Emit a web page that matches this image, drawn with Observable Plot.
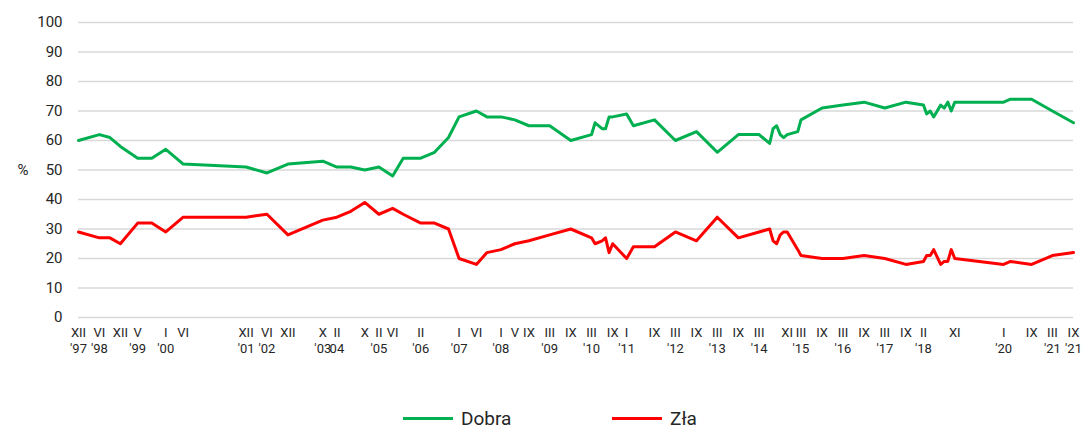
<!DOCTYPE html>
<html><head><meta charset="utf-8">
<script src="https://cdn.jsdelivr.net/npm/d3@7"></script>
<script src="https://cdn.jsdelivr.net/npm/@observablehq/plot@0.6"></script>
<style>
body{margin:0;background:#fff;font-family:Roboto,sans-serif;}
#legend{position:relative;width:1083px;height:34px;}
.item{position:absolute;top:0;height:34px;display:flex;align-items:center;font-size:19px;color:#262626}
.sw{width:50px;height:3px;margin-right:8px}
</style></head><body>
<div id="chart"></div>
<div id="legend"></div>
<script>
// survey dates (year-month)
const dates = ["1997-12","1998-06","1998-09","1998-12","1999-05","1999-09","2000-01","2000-06","2001-12","2002-06","2002-12","2003-10","2004-02","2004-06","2004-10","2005-02","2005-06","2005-09","2006-02","2006-06","2006-10","2007-01","2007-06","2007-09","2008-01","2008-05","2008-09","2009-03","2009-09","2010-03","2010-04","2010-06","2010-07","2010-08","2010-09","2011-01","2011-03","2011-09","2012-03","2012-09","2013-03","2013-09","2014-03","2014-06","2014-07","2014-08","2014-09","2014-10","2014-11","2015-02","2015-03","2015-09","2016-03","2016-09","2017-03","2017-09","2018-02","2018-03","2018-04","2018-05","2018-07","2018-08","2018-09","2018-10","2018-11","2020-01","2020-03","2020-09","2021-03","2021-09"];
// "Dobra" (%)
const dobra = [60,62,61,58,54,54,57,52,51,49,52,53,51,51,50,51,48,54,54,56,61,68,70,68,68,67,65,65,60,62,66,64,64,68,68,69,65,67,60,63,56,62,62,59,64,65,62,61,62,63,67,71,72,73,71,73,72,69,70,68,72,71,73,70,73,73,74,74,70,66];
// "Zła" (%)
const zla = [29,27,27,25,32,32,29,34,34,35,28,33,34,36,39,35,37,35,32,32,30,20,18,22,23,25,26,28,30,27,25,26,27,22,25,20,24,24,29,26,34,27,29,30,26,25,28,29,29,23,21,20,20,21,20,18,19,21,21,23,18,19,19,23,20,18,19,18,21,22];

// x-axis tick labels
const tickDates = ["1997-12","1998-06","1998-12","1999-05","2000-01","2000-06","2001-12","2002-06","2002-12","2003-10","2004-02","2004-10","2005-02","2005-06","2006-02","2007-01","2007-06","2008-01","2008-05","2008-09","2009-03","2009-09","2010-03","2010-09","2011-01","2011-09","2012-03","2012-09","2013-03","2013-09","2014-03","2014-11","2015-03","2015-09","2016-03","2016-09","2017-03","2017-09","2018-02","2018-11","2020-01","2020-09","2021-03","2021-09"];
const tickMonths = ["XII","VI","XII","V","I","VI","XII","VI","XII","X","II","X","II","VI","II","I","VI","I","V","IX","III","IX","III","IX","I","IX","III","IX","III","IX","III","XI","III","IX","III","IX","III","IX","II","XI","I","IX","III","IX"];
const tickYears = ["'97","'98","","'99","'00","","'01","'02","","'03","04","","'05","","'06","'07","","'08","","","'09","","'10","","'11","","'12","","'13","","'14","","'15","","'16","","'17","","'18","","'20","","'21","'21"];
const yTicks = [0,10,20,30,40,50,60,70,80,90,100];

const parse = d3.utcParse("%Y-%m");
const rows = dates.map((d, i) => ({date: parse(d), dobra: dobra[i], zla: zla[i]}));
const ticks = tickDates.map(parse);
const labelMap = new Map(ticks.map((t, i) => [+t, tickMonths[i] + "\n" + tickYears[i]]));

const chart = Plot.plot({
  width: 1083,
  height: 401,
  marginLeft: 78,
  marginRight: 10,
  marginTop: 22,
  marginBottom: 84,
  style: {fontFamily: "Roboto, sans-serif", color: "#262626", background: "#fff"},
  x: {type: "utc", domain: [parse("1997-12"), parse("2021-09")]},
  y: {domain: [0, 100]},
  marks: [
    Plot.gridY(yTicks, {stroke: "#d9d9d9", strokeOpacity: 1, strokeWidth: 1.5}),
    Plot.axisY(yTicks, {tickSize: 0, tickPadding: 16, fontSize: 15, label: null, fill: "#262626"}),
    Plot.axisX(ticks, {tickSize: 0, tickPadding: 7, fontSize: 13, lineHeight: 1.3, label: null,
      tickFormat: d => labelMap.get(+d), fill: "#262626"}),
    Plot.text(["%"], {frameAnchor: "left", dx: -61, fontSize: 15, fill: "#262626"}),
    Plot.line(rows, {x: "date", y: "dobra", stroke: "#00b050", strokeWidth: 3}),
    Plot.line(rows, {x: "date", y: "zla", stroke: "#ff0000", strokeWidth: 3})
  ]
});
document.getElementById("chart").append(chart);

const series = [{name: "Dobra", color: "#00b050", left: 403}, {name: "Zła", color: "#ff0000", left: 612}];
const legend = document.getElementById("legend");
for (const s of series) {
  const it = document.createElement("div");
  it.className = "item";
  it.style.left = s.left + "px";
  const sw = document.createElement("span");
  sw.className = "sw";
  sw.style.background = s.color;
  const tx = document.createElement("span");
  tx.textContent = s.name;
  it.append(sw, tx);
  legend.append(it);
}
</script></body></html>
